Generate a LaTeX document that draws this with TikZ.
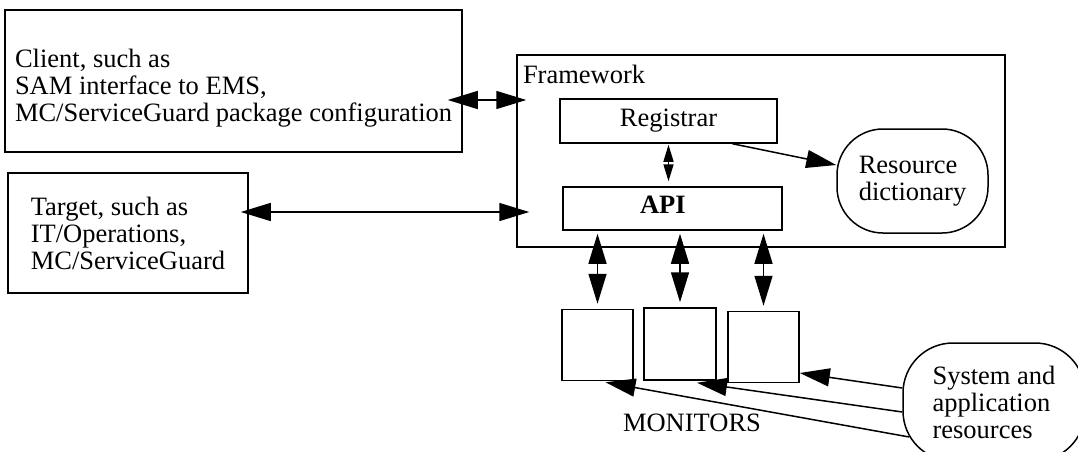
\documentclass[tikz,border=0pt]{standalone}
\usepackage{fontspec}
\setmainfont{Liberation Serif}
\usetikzlibrary{arrows.meta}

\tikzset{every picture/.style={line width=1.5pt}}
\tikzset{
  box/.style={draw, rectangle, inner sep=0pt},
  roundbox/.style={draw, rectangle, rounded corners=#1, inner sep=0pt, align=left},
  txt/.style={inner sep=0pt, align=left},
  bigtip/.tip={Triangle[length=30pt,width=18pt]},
  smalltip/.tip={Triangle[length=17pt,width=10pt]},
  dblarrow/.style={bigtip-bigtip},
  onearrow/.style={-bigtip},
  smalldbl/.style={smalltip-smalltip}
}

\begin{document}
\begin{tikzpicture}[x=1pt,y=1pt,yscale=-1,xscale=1,font=\fontsize{26.5}{27}\selectfont]
\useasboundingbox (0,0) rectangle (1078,452);

%Shape: Rectangle [client]
\node[box, minimum width=457pt, minimum height=142pt] (client) at (233.5,81) {};
% Text Node
\node[txt, anchor=north west] (clienttext) at ([xshift=10pt,yshift=39pt]client.north west) {Client, such as\\SAM interface to EMS,\\MC/ServiceGuard package configuration};

%Shape: Rectangle [target]
\node[box, align=left, minimum width=240pt, minimum height=120pt] (target) at (128,233) {Target, such as\\IT/Operations,\\MC/ServiceGuard};

%Shape: Rectangle [framework]
\node[box, minimum width=488pt, minimum height=192pt] (framework) at (761,151) {};
% Text Node
\node[txt, anchor=base west] (fwlabel) at ([xshift=6pt,yshift=29pt]framework.north west) {Framework};

%Shape: Rectangle [registrar]
\node[box, minimum width=217pt, minimum height=44pt] (registrar) at (668.5,121) {Registrar};

%Shape: Rectangle [api]
\node[box, minimum width=219pt, minimum height=43pt, text width=65pt, align=left, text depth=8pt, font=\fontsize{26.5}{27}\selectfont\bfseries] (api) at (672.5,208.5) {API};

%Shape: Rounded Rect [dictionary]
\node[roundbox=46pt, minimum width=151pt, minimum height=104pt] (dict) at (912.5,181) {Resource\\dictionary};

%Shape: Square [monitors]
\node[box, minimum size=71pt] (m1) at (597.5,345) {};
\node[box, minimum size=72pt] (m2) at (680,344) {};
\node[box, minimum size=71pt] (m3) at (763.5,347) {};
% Text Node
\node[txt] (montext) at (692,423) {MONITORS};

%Shape: Rounded Rect [resources]
\node[roundbox=50pt, minimum width=182pt, minimum height=118pt] (sys) at (994,402) {System and\\application\\resources};

%Straight Lines
\draw[dblarrow, shorten <=-15pt, shorten >=-10pt] ([yshift=19pt]client.east) -- ([yshift=-51pt]framework.west);
\draw[dblarrow, shorten <=-8pt, shorten >=-13pt] ([yshift=-21pt]target.east) -- ([yshift=61pt]framework.west);

\draw[smalldbl, shorten <=1pt, shorten >=5pt] (registrar.south) -- (registrar.south |- api.north);
\draw[onearrow] ([xshift=64pt]registrar.south) -- ([yshift=-16pt]dict.west);

\draw[dblarrow, shorten <=3pt, shorten >=5pt] (api.south -| m1.north) -- (m1.north);
\draw[dblarrow, shorten <=3pt, shorten >=5pt] (api.south -| m2.north) -- (m2.north);
\draw[dblarrow, shorten <=3pt, shorten >=5pt] (api.south -| m3.north) -- (m3.north);

\draw[onearrow] ([yshift=-14pt]sys.west) -- ([yshift=26pt]m3.east);
\draw[onearrow] ([yshift=10pt]sys.west) -- ([xshift=17pt,yshift=2pt]m2.south);
\draw[onearrow] ([xshift=7pt,yshift=35pt]sys.west) -- ([xshift=8pt,yshift=1pt]m1.south);

\end{tikzpicture}
\end{document}
